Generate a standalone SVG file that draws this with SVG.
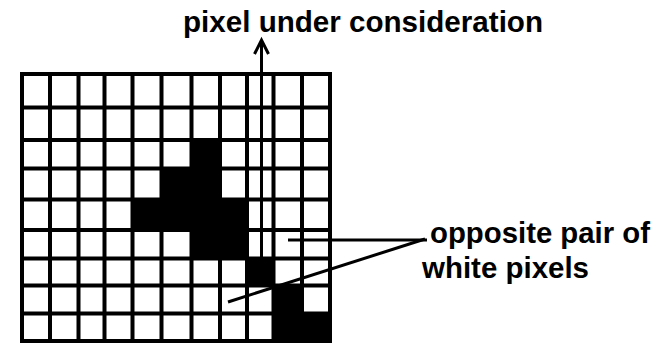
<svg xmlns="http://www.w3.org/2000/svg" width="653" height="343" viewBox="0 0 653 343">
  <style>
    .grid { stroke: #000; stroke-width: 4; fill: none; }
    .blk { fill: #000; }
    .lbl { font-family: "Liberation Sans", Arial, sans-serif; font-weight: bold; font-size: 29px; fill: #000; }
    .ptr { stroke: #000; stroke-width: 3; fill: none; }
  </style>
  <rect width="653" height="343" fill="#fff"/>
  <g id="pixel-grid">
    <g id="black-pixels" class="blk">
      <rect x="191.5" y="140" width="28.5" height="28.5"/>
      <rect x="161.5" y="168.5" width="58.5" height="31"/>
      <rect x="132.5" y="199.5" width="114.5" height="30.5"/>
      <rect x="191.5" y="230" width="55.5" height="28.5"/>
      <rect x="247" y="258.5" width="26.5" height="27"/>
      <rect x="273.5" y="285.5" width="28.5" height="28"/>
      <rect x="273.5" y="313.5" width="56.5" height="27.5"/>
    </g>
    <g id="grid-lines" class="grid">
      <path d="M22,74V341 M50,74V341 M78.5,74V341 M104.5,74V341 M132.5,74V341 M161.5,74V341 M191.5,74V341 M220,74V341 M247,74V341 M273.5,74V341 M302,74V341 M330,74V341"/>
      <path d="M20,74H332 M20,107.5H332 M20,140H332 M20,168.5H332 M20,199.5H332 M20,230H332 M20,258.5H332 M20,285.5H332 M20,313.5H332 M20,341H332"/>
    </g>
  </g>
  <g id="connectors">
    <line class="ptr" x1="261.5" y1="258" x2="261.5" y2="42" stroke-width="2.5"/>
    <polyline class="ptr" points="254.5,54 261.5,40 268.5,54" stroke-width="3.5"/>
    <line class="ptr" x1="288" y1="240" x2="427" y2="240"/>
    <line class="ptr" x1="228" y1="302" x2="425" y2="239"/>
  </g>
  <g id="label-pixel">
    <text class="lbl" x="183" y="32" textLength="360" lengthAdjust="spacingAndGlyphs">pixel under consideration</text>
  </g>
  <g id="label-opposite">
    <text class="lbl" x="430" y="243" textLength="220" lengthAdjust="spacingAndGlyphs">opposite pair of</text>
    <text class="lbl" x="422" y="278" textLength="167" lengthAdjust="spacingAndGlyphs">white pixels</text>
  </g>
</svg>
